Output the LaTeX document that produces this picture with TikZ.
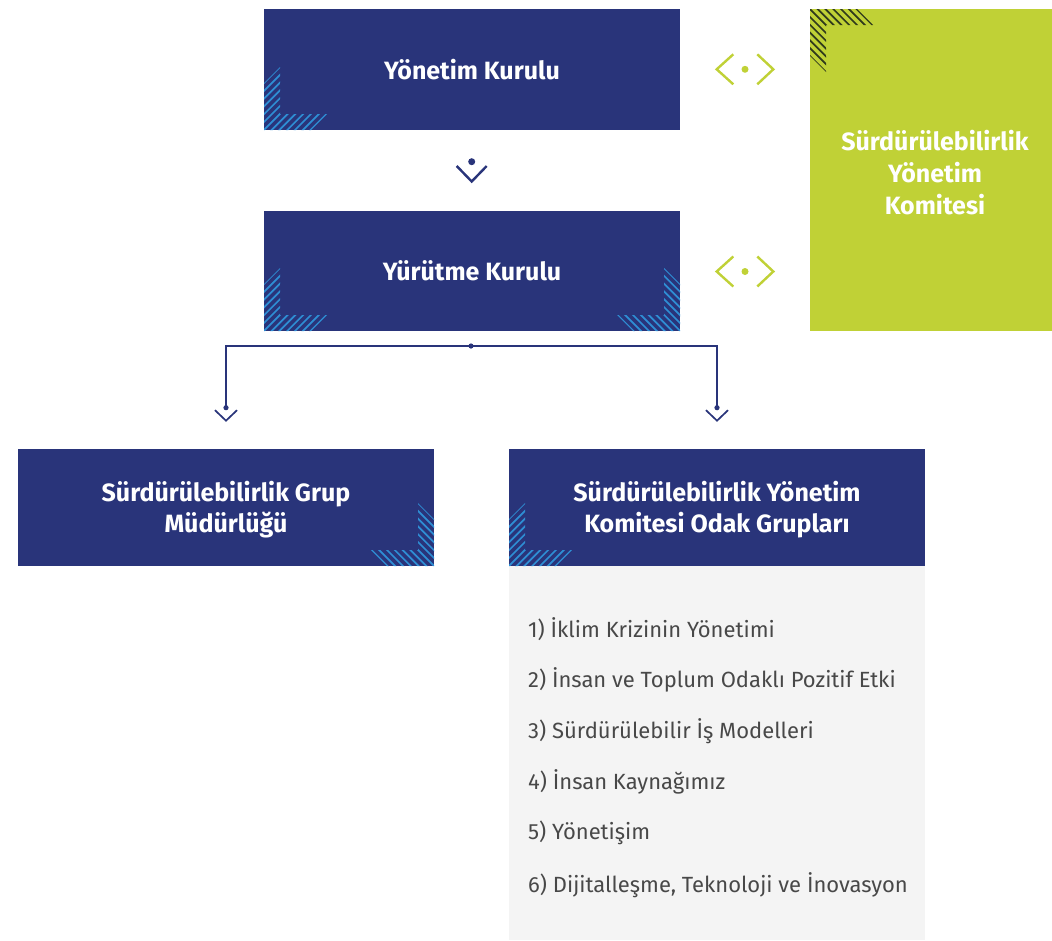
\documentclass[tikz,border=0pt]{standalone}
\usepackage{fontspec}
\setmainfont{Fira Sans}
\definecolor{navy}{RGB}{41,52,122}
\definecolor{lime}{RGB}{192,209,54}
\definecolor{hatchblue}{RGB}{46,142,212}
\definecolor{hatchdark}{RGB}{48,58,28}
\definecolor{panelgrey}{RGB}{244,244,244}
\definecolor{listtext}{RGB}{72,72,72}
\newcommand{\cornerhatch}[5]{%
  \begin{scope}[shift={(#1,#2)}, xscale=#3, yscale=#4]
    \clip (0,0) -- (47,0) -- (63,16) -- (16,16) -- (16,63) -- (0,47) -- cycle;
    \foreach \c in {-47,-39.2,...,48} \draw[#5, line width=1.7pt] (\c-20,-20) -- (\c+80,80);
  \end{scope}}
\tikzset{
  navybox/.style={fill=navy, draw=none, minimum width=416pt, inner sep=0pt},
  title/.style={text=white, align=center, inner sep=0pt,
    font=\bfseries\fontsize{25}{31}\selectfont},
  limetitle/.style={text=white, align=center, inner sep=0pt,
    font=\bfseries\fontsize{25}{32}\selectfont},
  listitem/.style={anchor=west, text=listtext, font=\fontsize{22}{26}\selectfont, inner sep=0pt},
  conn/.style={navy, line width=1.4pt},
  downtip/.pic={
    \fill[navy] (0,0) circle[radius=2.6pt];
    \draw[navy, line width=1.7pt] (-11,2.5) -- (0,13) -- (11,2.5);},
  bigdowntip/.pic={
    \fill[navy] (0,0) circle[radius=3.5pt];
    \draw[navy, line width=2.4pt] (-15,4.3) -- (0,19.8) -- (15,4.3);},
  linktip/.pic={
    \fill[lime] (0,0) circle[radius=3.5pt];
    \draw[lime, line width=2.4pt] (-11.7,-15) -- (-28.3,0) -- (-11.7,15);
    \draw[lime, line width=2.4pt] (12.3,-15) -- (28.3,0) -- (12.3,15);}
}
\begin{document}
\begin{tikzpicture}[x=1pt, y=-1pt]
\useasboundingbox (0,0) rectangle (1052,940);

% boxes
\node[navybox, minimum height=121pt] (yk) at (472,69.5) {};
\node[navybox, minimum height=120pt] (yrk) at (472,271) {};
\node[fill=lime, minimum width=242pt, minimum height=322pt, inner sep=0pt] (syk) at (931,170) {};
\node[fill=panelgrey, minimum width=416pt, minimum height=374pt, inner sep=0pt] (panel) at (717,753) {};
\node[navybox, minimum height=117pt] (sgm) at (226,507.5) {};
\node[navybox, minimum height=117pt] (odak) at (717,507.5) {};

% hatches
\cornerhatch{264}{130}{1}{-1}{hatchblue}
\cornerhatch{264}{331}{1}{-1}{hatchblue}
\cornerhatch{680}{331}{-1}{-1}{hatchblue}
\cornerhatch{434}{566}{-1}{-1}{hatchblue}
\cornerhatch{509}{566}{1}{-1}{hatchblue}
\cornerhatch{810}{9}{1}{1}{hatchdark}

% titles
\node[title] (ykt) at (yk) {Yönetim Kurulu};
\node[title] (yrkt) at (yrk) {Yürütme Kurulu};
\node[limetitle] (sykt) at (935,173) {Sürdürülebilirlik\\Yönetim\\Komitesi};
\node[title] (sgmt) at (226,510) {Sürdürülebilirlik Grup\\Müdürlüğü};
\node[title] (odakt) at (717,510) {Sürdürülebilirlik Yönetim\\Komitesi Odak Grupları};

% list
\node[listitem] (l1) at (528,629) {1) İklim Krizinin Yönetimi};
\node[listitem] (l2) at (528,680) {2) İnsan ve Toplum Odaklı Pozitif Etki};
\node[listitem] (l3) at (528,731) {3) Sürdürülebilir İş Modelleri};
\node[listitem] (l4) at (528,782) {4) İnsan Kaynağımız};
\node[listitem] (l5) at (528,833) {5) Yönetişim};
\node[listitem] (l6) at (528,885) {6) Dijitalleşme, Teknoloji ve İnovasyon};

% links
\pic (t0) at (471.7,161.7) {bigdowntip};
\pic (lk1) at (745,69.3) {linktip};
\pic (lk2) at (745,271.5) {linktip};

\coordinate (split) at (471,346);
\coordinate (tipL) at (226,407.7);
\coordinate (tipR) at (717,407.7);
\draw[conn] (split) -| (tipL);
\draw[conn] (split) -| (tipR);
\fill[navy] (split) circle[radius=2.6pt];
\pic (tl) at (tipL) {downtip};
\pic (tr) at (tipR) {downtip};
\end{tikzpicture}
\end{document}
